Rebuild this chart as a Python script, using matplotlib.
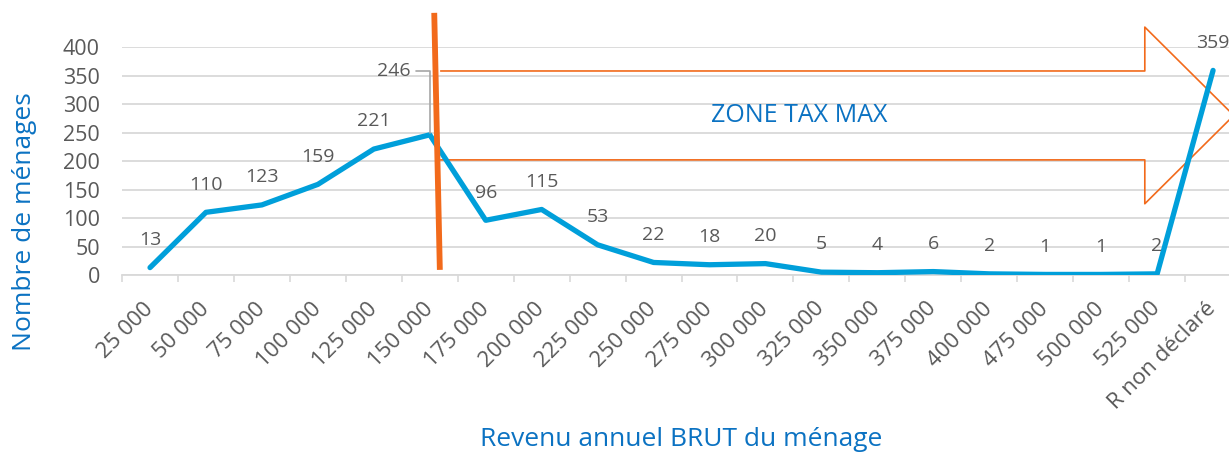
import matplotlib
matplotlib.use("Agg")
import matplotlib.pyplot as plt
import numpy as np

plt.rcParams['font.family'] = ['Open Sans', 'DejaVu Sans']

# data
categories = ['25 000', '50 000', '75 000', '100 000', '125 000', '150 000',
              '175 000', '200 000', '225 000', '250 000', '275 000', '300 000',
              '325 000', '350 000', '375 000', '400 000', '475 000', '500 000',
              '525 000', 'R non déclaré']
menages = [13, 110, 123, 159, 221, 246, 96, 115, 53, 22, 18, 20, 5, 4, 6, 2, 1, 1, 2, 359]

blue_line = '#009FDA'
blue_txt = '#0B72C2'
orange = '#F26A1B'
grey_txt = '#595959'
grid_c = '#D9D9D9'

fig = plt.figure(figsize=(12.29, 4.55), dpi=100)
ax = fig.add_axes([0.0993, 0.3956, 0.9105, 0.501])

x = np.arange(len(categories))
ax.plot(x, menages, color=blue_line, lw=3.8, solid_capstyle='round',
        solid_joinstyle='round', zorder=3)

# data labels
peak = int(np.argmax(menages[:-1]))
for i, v in enumerate(menages):
    if i == peak:
        ax.annotate(str(v), xy=(i, v), xytext=(-26, 46), textcoords='offset points',
                    ha='center', va='center', fontsize=14, color=grey_txt,
                    arrowprops=dict(arrowstyle='-', color='#A6A6A6', lw=1.2,
                                    connectionstyle='angle,angleA=0,angleB=90,rad=0',
                                    shrinkA=2, shrinkB=1))
    else:
        ax.annotate(str(v), xy=(i, v), xytext=(0, 20), textcoords='offset points',
                    ha='center', va='center', fontsize=14, color=grey_txt)

ax.set_xlim(-0.5, len(categories) - 0.5)
ax.set_ylim(0, 400)
ax.set_yticks(range(0, 401, 50))
ax.set_xticks(x)
ax.set_xticklabels(categories, rotation=45, ha='right', va='center',
                   rotation_mode='anchor')
ax.set_xticks(np.arange(-0.5, len(categories), 1), minor=True)
ax.tick_params(axis='x', which='major', length=0, pad=22, labelsize=16,
               labelcolor=grey_txt)
ax.tick_params(axis='x', which='minor', length=5, width=1.2, color=grid_c)
ax.tick_params(axis='y', length=0, pad=16, labelsize=15.5, labelcolor=grey_txt)
ax.grid(axis='y', color=grid_c, lw=1.3, zorder=0)
ax.set_axisbelow(True)
for s in ['top', 'right', 'left']:
    ax.spines[s].set_visible(False)
ax.spines['bottom'].set_color(grid_c)
ax.spines['bottom'].set_linewidth(1.3)

# zone tax max marker (vertical bar + outlined arrow)
bar_x = [5.08, 5.18]
bar_y = [460, 9]
ax.plot(bar_x, bar_y, color=orange, lw=4.2, zorder=4, clip_on=False,
        solid_capstyle='butt')

shaft_top, shaft_bot = 358, 202
head_top, head_bot = 435, 125
head_x, tip_x, tip_y = 17.78, 19.37, 280
start_x = 5.2
arrow_x = [start_x, head_x, head_x, tip_x, head_x, head_x, start_x]
arrow_y = [shaft_top, shaft_top, head_top, tip_y, head_bot, shaft_bot, shaft_bot]
ax.plot(arrow_x, arrow_y, color=orange, lw=1.2, zorder=2, clip_on=False)

ax.text(11.6, (shaft_top + shaft_bot) / 2, 'ZONE TAX MAX',
        ha='center', va='center', fontsize=18, color=blue_txt)

fig.text(25 / 1229, 1 - 222 / 455, 'Nombre de ménages', rotation=90,
         ha='center', va='center', fontsize=19, color=blue_txt)
fig.text(681 / 1229, 1 - 440 / 455, 'Revenu annuel BRUT du ménage',
         ha='center', va='center', fontsize=19, color=blue_txt)

fig.savefig('out.png', dpi=100)
